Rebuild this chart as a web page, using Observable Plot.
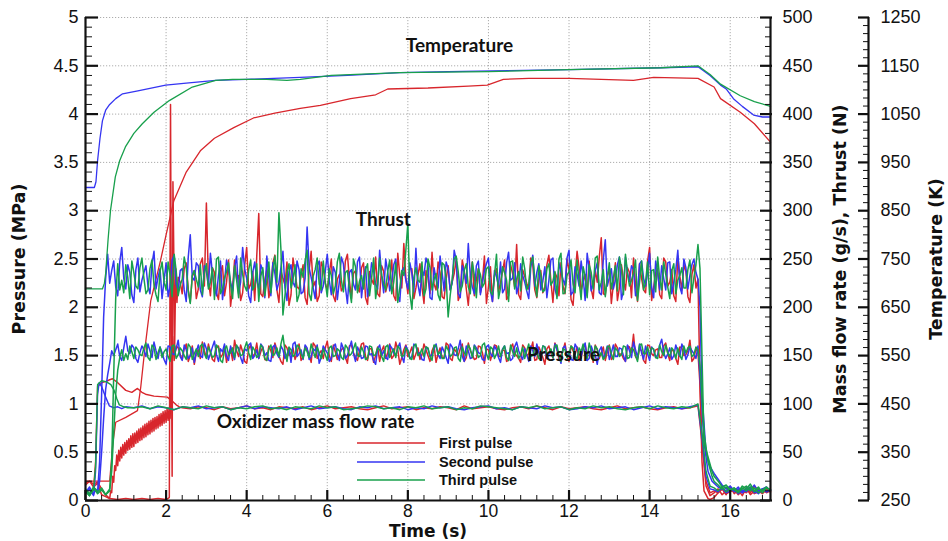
<!DOCTYPE html>
<html><head><meta charset="utf-8">
<script src="https://cdn.jsdelivr.net/npm/d3@7"></script>
<script src="https://cdn.jsdelivr.net/npm/@observablehq/plot@0.6"></script>
<style>
body{margin:0;background:#fff;}
#wrap{position:relative;width:948px;height:541px;}
#legend{position:absolute;left:355px;top:434px;font:bold 14.5px "Liberation Sans",Arial,sans-serif;color:#111;}
#legend div{display:flex;align-items:center;height:18.5px;}
#legend svg{margin-right:12px;}
</style></head><body><div id="wrap"></div>
<script>
// ================= DATA =================
const pulseNames = ["First pulse", "Second pulse", "Third pulse"];
const pulseColors = ["#d8262c", "#3535f2", "#18a04c"];

// ---- Temperature (K) ----
const tempFirstT = [0,0.6,0.68,0.75,1.0,1.29,1.37,1.46,1.62,1.86,2.0,2.19,2.5,2.85,3.2,3.68,4.17,4.7,5.33,5.83,6.58,7.2,7.5,8.5,9.5,9.97,10.37,11,12,13.6,14.1,15.2,15.6,15.76,16.25,16.6,17];
const tempFirstK = [290,290,370,412,422,436,484,554,664,746,800,870,930,974,1000,1022,1042,1052,1062,1068,1082,1090,1102,1104,1108,1110,1122,1124,1124,1120,1126,1124,1106,1082,1054,1030,992];
const tempSecondT = [0,0.22,0.26,0.3,0.36,0.42,0.5,0.6,0.75,0.92,1.3,1.99,2.5,3.23,4,5.33,6.5,7.8,9,10.5,12,14.27,15.2,15.5,15.76,15.9,16.08,16.3,16.58,16.8,17];
const tempSecondK = [898,898,910,954,1000,1036,1058,1070,1082,1092,1098,1110,1114,1120,1122,1126,1130,1136,1138,1140,1142,1146,1148,1130,1110,1102,1082,1066,1048,1044,1044];
const tempThirdT = [0,0.42,0.47,0.5,0.56,0.62,0.74,0.85,0.99,1.2,1.41,1.7,2.08,2.65,3.23,3.65,4.5,5.0,5.33,6.1,7.8,10,12,14.3,15.2,15.5,15.76,16.25,16.6,17];
const tempThirdK = [688,688,700,720,790,850,920,954,982,1010,1030,1054,1078,1106,1120,1122,1122,1120,1122,1130,1136,1138,1142,1146,1150,1132,1112,1088,1076,1066];

// ---- Thrust (N) ----
const thrustFirstStartT = [0,0.1,0.2,0.3,0.4,0.5,0.6,0.8,1.0,1.2,1.4,1.6,1.8,2.0,2.08,2.11,2.13,2.15,2.17,2.19,2.21,2.24,2.27];
const thrustFirstStartN = [18,20,17,19,12,6,2,1,2,1,2,1,2,1,3,410,180,25,330,260,150,240,205];
const thrustFirstSteadyFrom = 2.3;
const thrustFirstSteadyN = [
231,214,246,205,238,219,251,308,212,236,
208,243,226,201,249,233,215,262,224,207,
297,211,239,222,254,205,230,247,213,236,
219,244,203,258,227,212,241,218,250,206,
234,221,255,209,238,216,246,203,229,252,
211,237,224,249,207,233,266,214,240,220,
245,204,231,257,218,236,209,243,226,250,
213,238,202,247,229,215,253,221,206,240,
226,249,212,235,265,208,232,219,244,210,
238,221,254,205,231,246,214,239,202,258,
217,234,248,209,226,272,213,241,224,207,
244,218,236,251,206,230,215,262,221,240,
209,247,226,212,253,218,237,205,244,229];
const thrustFirstMidN = [
226,240,218,232,209,245,222,228,241,215,
236,212,249,220,230,207,243,219,237,253,
214,228,210,246,218,238,223,202,251,221,
233,210,238,221,206,247,225,235,212,229,
217,248,228,235,219,241,210,237,224,214,
243,216,230,212,256,220,231,240,209,233,
221,238,214,224,247,211,229,218,235,207,
249,219,231,212,240,226,204,242,233,216,
237,208,244,221,213,239,225,251,218,228,
215,244,227,236,212,222,250,208,233,241,
226,212,219,239,252,214,231,204,246,220,
229,241,210,223,245,218,248,207,236,213,
251,222,239,206,232,244,211,234,220];
const thrustFirstEndT = [15.25,15.3,15.35,15.45,15.5];
const thrustFirstEndN = [120,40,10,2,1];
const thrustFirstTailN = [3,8,12,6,14,9,11,5,13,8,15,10,7,12,9];

const thrustSecondStartT = [0,0.1,0.2,0.25,0.3,0.35,0.4,0.45,0.5,0.55];
const thrustSecondStartN = [8,14,6,12,9,40,110,190,230,255];
const thrustSecondSteadyFrom = 0.6;
const thrustSecondSteadyN = [
225,248,212,262,219,236,205,251,228,243,
214,258,231,209,246,222,254,217,240,206,
275,228,243,211,237,256,220,233,208,249,
226,241,214,262,230,205,247,219,238,253,
212,235,226,258,207,244,221,239,216,283,
231,209,248,222,255,213,236,227,245,204,
239,218,252,230,211,246,224,259,215,237,
227,250,206,241,219,235,261,212,233,244,
208,229,253,217,240,225,249,210,236,266,
221,243,213,238,251,206,232,247,219,257,
230,214,245,226,209,254,236,218,242,228,
251,211,237,223,259,216,234,248,207,240,
225,246,213,270,231,219,244,208,252,227,
239,215,248,222,256,210,235,243,218,247,
226,259,214,241,233,250,229];
const thrustSecondMidN = [
238,221,247,230,244,213,239,216,236,222,
245,219,240,228,211,249,224,238,218,252,
231,246,218,243,222,235,212,248,226,239,
217,253,226,240,212,236,228,244,210,231,
246,218,241,220,237,226,248,214,230,241,
220,243,215,237,228,242,208,252,221,236,
224,247,210,242,226,238,219,233,250,217,
244,213,237,228,246,216,224,239,251,210,
241,220,236,247,218,259,214,243,225,232,
214,248,225,245,217,238,222,215,246,228,
246,223,233,217,241,222,245,227,210,249,
219,246,229,251,213,242,222,231,256,217,
238,215,249,222,240,228,252,217,235,243,
212,245,230,237,221,248,218,230,246,214,
239,221,250,219,244,236];
const thrustSecondEndT = [15.25,15.3,15.4,15.5];
const thrustSecondEndN = [200,110,50,35];
const thrustSecondTailN = [28,22,16,12,15,10,14,8,13,11,16,9,12,14,10];

const thrustThirdStartT = [0,0.1,0.2,0.3,0.4,0.5,0.6,0.65,0.7,0.75,0.8,0.85];
const thrustThirdStartN = [10,5,13,7,11,6,12,40,130,210,245,218];
const thrustThirdSteadyFrom = 0.9;
const thrustThirdSteadyN = [
228,244,209,236,219,251,214,240,223,206,
247,218,233,255,212,229,241,204,238,221,
213,245,226,208,252,219,237,224,243,210,
234,217,249,222,206,241,228,215,253,298,
192,236,220,244,213,231,259,207,239,224,
248,211,233,222,256,216,238,205,242,227,
219,245,230,209,251,224,237,214,246,220,
233,287,198,241,226,212,250,218,235,207,
244,190,229,253,216,238,221,247,210,234,
225,242,213,255,220,236,206,248,229,217,
240,223,252,211,234,218,245,227,209,256,
215,237,224,249,208,232,244,219,253,226,
211,246,230,217,241,255,222,235,207,248,
226,213,239,252,218,234,209,245,228,241,
220,249,231,265];
const thrustThirdMidN = [
215,231,248,222,241,230,218,249,213,237,
226,247,211,238,223,252,217,233,229,244,
236,219,241,250,214,230,246,209,228,251,
222,239,218,245,232,212,247,236,226,260,
212,245,229,206,240,248,214,232,251,218,
226,240,214,247,228,236,219,250,215,233,
239,212,251,224,233,218,249,226,205,238,
259,214,231,228,247,219,241,229,213,246,
230,212,250,237,222,245,214,233,240,221,
240,216,233,209,242,228,247,219,237,252,
218,246,230,243,216,240,223,237,250,214,
233,249,215,227,242,210,236,251,218,239,
230,219,243,252,213,236,228,249,226,218,
247,238,216,230,247,221,238,214,233,220,
239,215,244];
const thrustThirdEndT = [15.25,15.3,15.35,15.45,15.55];
const thrustThirdEndN = [240,150,60,45,30];
const thrustThirdTailN = [25,20,14,16,11,13,9,15,12,17,10,14,8,13,11];

// ---- Chamber pressure (MPa) ----
const pressFirstStartT = [0,0.1,0.2,0.3,0.4,0.5];
const pressFirstStartP = [0.16,0.2,0.14,0.18,0.06,0.04];
const pressFirstRampFrom = 0.6, pressFirstRampStep = 0.025;
const pressFirstRampP = [
0.02,0.10,0.08,0.25,0.19,0.36,0.31,0.47,0.36,0.52,
0.41,0.55,0.44,0.58,0.47,0.60,0.49,0.62,0.52,0.64,
0.53,0.67,0.55,0.69,0.56,0.70,0.59,0.72,0.60,0.74,
0.62,0.75,0.63,0.77,0.65,0.79,0.66,0.80,0.68,0.82,
0.69,0.83,0.71,0.85,0.72,0.86,0.74,0.87,0.75,0.89,
0.77,0.90,0.78,0.92,0.80,0.93,0.81,0.95,0.83,0.96,
0.85];
const pressFirstIgnT = [2.13,2.16,2.2,2.25];
const pressFirstIgnP = [1.3,1.7,1.45,1.6];
const pressFirstSteadyFrom = 2.3;
const pressFirstSteadyP = [
1.58,1.46,1.62,1.50,1.41,1.56,1.64,1.48,1.53,1.44,
1.60,1.51,1.43,1.57,1.66,1.49,1.54,1.42,1.61,1.52,
1.47,1.59,1.45,1.55,1.63,1.50,1.41,1.58,1.53,1.46,
1.62,1.49,1.56,1.43,1.60,1.52,1.47,1.65,1.44,1.54,
1.51,1.58,1.42,1.61,1.48,1.55,1.63,1.45,1.57,1.50,
1.44,1.60,1.53,1.47,1.64,1.41,1.56,1.49,1.59,1.52,
1.46,1.62,1.50,1.55,1.43,1.58,1.48,1.61,1.45,1.54,
1.57,1.44,1.63,1.51,1.47,1.59,1.42,1.56,1.53,1.60,
1.49,1.55,1.45,1.62,1.50,1.43,1.58,1.52,1.64,1.46,
1.54,1.41,1.60,1.48,1.57,1.51,1.63,1.44,1.55,1.59,
1.47,1.62,1.50,1.43,1.56,1.53,1.45,1.61,1.49,1.58,
1.52,1.44,1.59,1.72,1.46,1.55,1.42,1.60,1.50,1.57,
1.48,1.63,1.45,1.54,1.41,1.58,1.51,1.66,1.47,1.53];
const pressFirstMidP = [
1.51,1.57,1.44,1.60,1.53,1.47,1.55,1.62,1.46,1.58,
1.48,1.59,1.52,1.45,1.55,1.61,1.44,1.57,1.49,1.63,
1.54,1.46,1.60,1.48,1.56,1.44,1.61,1.50,1.58,1.52,
1.45,1.59,1.51,1.63,1.47,1.55,1.58,1.50,1.61,1.46,
1.56,1.48,1.60,1.53,1.45,1.62,1.49,1.57,1.43,1.59,
1.55,1.47,1.62,1.50,1.56,1.48,1.61,1.53,1.46,1.58,
1.51,1.56,1.44,1.60,1.52,1.48,1.63,1.47,1.57,1.50,
1.62,1.48,1.55,1.46,1.60,1.53,1.57,1.45,1.61,1.49,
1.56,1.44,1.58,1.52,1.47,1.61,1.50,1.56,1.45,1.59,
1.48,1.57,1.52,1.63,1.46,1.55,1.49,1.60,1.51,1.45,
1.58,1.50,1.56,1.61,1.47,1.59,1.54,1.46,1.62,1.51,
1.47,1.60,1.53,1.49,1.57,1.45,1.61,1.52,1.56,1.48,
1.60,1.52,1.57,1.47,1.59,1.50,1.55,1.44,1.58];
const pressFirstEndT = [15.25,15.3,15.4,15.5];
const pressFirstEndP = [1.2,0.6,0.15,0.05];
const pressFirstTailP = [0.08,0.12,0.06,0.1,0.14,0.07,0.11,0.09,0.13,0.06,0.1,0.12,0.08,0.11,0.09];

const pressSecondStartT = [0,0.1,0.2,0.3,0.35,0.4,0.45,0.5,0.55,0.6,0.65];
const pressSecondStartP = [0.1,0.06,0.12,0.08,0.2,0.5,0.85,1.15,1.3,1.42,1.55];
const pressSecondSteadyFrom = 0.7;
const pressSecondSteadyP = [
1.50,1.62,1.45,1.70,1.52,1.58,1.43,1.60,1.49,1.55,
1.64,1.47,1.53,1.41,1.59,1.51,1.66,1.45,1.56,1.50,
1.43,1.61,1.48,1.57,1.52,1.65,1.44,1.54,1.49,1.60,
1.46,1.58,1.42,1.55,1.63,1.50,1.47,1.59,1.53,1.44,
1.61,1.48,1.56,1.51,1.43,1.64,1.52,1.46,1.58,1.49,
1.55,1.42,1.60,1.53,1.47,1.62,1.45,1.57,1.50,1.65,
1.44,1.54,1.48,1.59,1.52,1.41,1.61,1.55,1.46,1.58,
1.50,1.63,1.43,1.56,1.49,1.60,1.53,1.45,1.57,1.51,
1.62,1.47,1.54,1.42,1.59,1.50,1.66,1.44,1.55,1.48,
1.58,1.52,1.45,1.61,1.49,1.56,1.43,1.60,1.53,1.47,
1.64,1.50,1.57,1.44,1.55,1.62,1.46,1.59,1.51,1.48,
1.56,1.42,1.60,1.53,1.45,1.58,1.50,1.63,1.47,1.54,
1.41,1.59,1.52,1.46,1.61,1.49,1.57,1.44,1.55,1.64,
1.48,1.53,1.60,1.45,1.56,1.51,1.67,1.47,1.58,1.50,
1.54,1.62,1.46,1.59,1.52,1.60];
const pressSecondMidP = [
1.56,1.49,1.58,1.55,1.61,1.47,1.53,1.56,1.62,1.48,
1.55,1.59,1.46,1.60,1.52,1.57,1.49,1.61,1.47,1.58,
1.54,1.50,1.63,1.46,1.59,1.51,1.57,1.62,1.45,1.53,
1.60,1.48,1.57,1.61,1.47,1.56,1.62,1.50,1.45,1.59,
1.52,1.60,1.47,1.58,1.62,1.49,1.56,1.61,1.46,1.57,
1.61,1.48,1.56,1.44,1.59,1.51,1.63,1.47,1.58,1.52,
1.59,1.47,1.60,1.51,1.45,1.57,1.50,1.48,1.61,1.53,
1.58,1.49,1.60,1.47,1.62,1.52,1.46,1.59,1.49,1.57,
1.51,1.59,1.48,1.62,1.51,1.57,1.49,1.60,1.47,1.61,
1.53,1.46,1.59,1.52,1.60,1.48,1.57,1.52,1.45,1.59,
1.55,1.46,1.51,1.60,1.49,1.54,1.60,1.47,1.56,1.62,
1.50,1.58,1.49,1.46,1.62,1.51,1.57,1.45,1.60,1.51,
1.55,1.47,1.60,1.53,1.49,1.58,1.50,1.61,1.48,1.56,
1.62,1.46,1.52,1.59,1.48,1.61,1.53,1.52,1.46,1.61,
1.49,1.57,1.51,1.55,1.47];
const pressSecondEndT = [15.25,15.35,15.45,15.55];
const pressSecondEndP = [1.3,0.6,0.3,0.2];
const pressSecondTailP = [0.18,0.14,0.12,0.1,0.13,0.09,0.12,0.08,0.11,0.14,0.1,0.07,0.12,0.09,0.11];

const pressThirdStartT = [0,0.1,0.2,0.3,0.4,0.5,0.6,0.65,0.7,0.75,0.8,0.85,0.9,0.95];
const pressThirdStartP = [0.12,0.07,0.14,0.09,0.13,0.06,0.1,0.3,0.7,1.1,1.35,1.48,1.56,1.45];
const pressThirdSteadyFrom = 1.0;
const pressThirdSteadyP = [
1.52,1.60,1.47,1.56,1.50,1.63,1.45,1.58,1.53,1.48,
1.57,1.44,1.61,1.51,1.55,1.46,1.59,1.52,1.49,1.62,
1.47,1.54,1.50,1.58,1.43,1.60,1.53,1.48,1.56,1.51,
1.64,1.46,1.55,1.50,1.58,1.45,1.61,1.52,1.49,1.71,
1.44,1.56,1.51,1.59,1.47,1.54,1.62,1.48,1.53,1.57,
1.45,1.60,1.50,1.55,1.46,1.58,1.52,1.63,1.49,1.54,
1.47,1.59,1.51,1.56,1.44,1.61,1.53,1.48,1.57,1.50,
1.55,1.46,1.62,1.52,1.49,1.58,1.45,1.60,1.54,1.47,
1.56,1.51,1.59,1.44,1.53,1.61,1.48,1.55,1.50,1.63,
1.46,1.57,1.52,1.49,1.60,1.45,1.54,1.58,1.51,1.47,
1.62,1.50,1.55,1.46,1.59,1.53,1.48,1.61,1.44,1.56,
1.52,1.58,1.47,1.54,1.50,1.63,1.45,1.57,1.53,1.49,
1.60,1.46,1.55,1.51,1.59,1.48,1.56,1.44,1.62,1.52,
1.50,1.57,1.47,1.54,1.61,1.49,1.55,1.58,1.46,1.53,
1.60,1.51,1.56];
const pressThirdMidP = [
1.46,1.54,1.59,1.51,1.58,1.48,1.61,1.46,1.59,1.54,
1.49,1.60,1.47,1.58,1.50,1.62,1.46,1.57,1.60,1.52,
1.59,1.48,1.61,1.45,1.56,1.51,1.58,1.61,1.50,1.58,
1.53,1.59,1.48,1.61,1.47,1.57,1.50,1.58,1.62,1.55,
1.59,1.49,1.61,1.52,1.58,1.48,1.55,1.59,1.47,1.51,
1.58,1.49,1.57,1.48,1.61,1.50,1.57,1.50,1.59,1.46,
1.60,1.50,1.58,1.49,1.59,1.48,1.57,1.60,1.49,1.58,
1.47,1.60,1.50,1.57,1.59,1.49,1.61,1.51,1.47,1.60,
1.49,1.58,1.47,1.59,1.50,1.57,1.60,1.48,1.61,1.52,
1.59,1.47,1.60,1.56,1.48,1.61,1.49,1.47,1.59,1.55,
1.49,1.58,1.47,1.60,1.51,1.57,1.60,1.50,1.57,1.48,
1.60,1.49,1.58,1.62,1.47,1.55,1.60,1.49,1.46,1.59,
1.52,1.58,1.49,1.60,1.47,1.58,1.50,1.61,1.52,1.59,
1.58,1.48,1.61,1.50,1.53,1.58,1.47,1.50,1.60,1.58,
1.49,1.59];
const pressThirdEndT = [15.25,15.35,15.45,15.55];
const pressThirdEndP = [1.4,0.7,0.4,0.25];
const pressThirdTailP = [0.2,0.16,0.12,0.14,0.1,0.13,0.09,0.12,0.15,0.1,0.13,0.08,0.11,0.14,0.1];

// ---- Oxidizer mass flow rate (g/s) ----
const flowFirstStartT = [0,0.1,0.2,0.25,0.3,0.4,0.5,0.6,0.67,0.8,1.0,1.15,1.29,1.4,1.49,1.7,2.03,2.15,2.25,2.33];
const flowFirstStartG = [10,6,12,40,118,122,123,125,126,122,114,112,116,112,110,108,107,103,99,97];
const flowFirstSteadyFrom = 2.4;
const flowFirstSteadyG = [
96,95,97,96,94,97,95,96,98,95,
96,94,97,96,95,97,94,96,98,95,
96,97,95,94,96,98,95,96,97,94,
96,95,97,96,94,98,95,96,97,95,
94,96,97,95,98,96,94,97,95,96,
97,95,94,96,98,95,96,97,95,94,
96,97,95,96,98];
const flowFirstEndT = [15.3,15.4,15.5];
const flowFirstEndG = [60,20,8];
const flowFirstTailG = [10,8,12,7,9,11,6,10,8,12,7,9,11,8,10];

const flowSecondStartT = [0,0.1,0.2,0.25,0.3,0.34,0.4,0.5,0.59,0.7,0.8,0.9];
const flowSecondStartG = [8,12,5,30,110,122,118,107,98,96,97,95];
const flowSecondSteadyFrom = 1.0;
const flowSecondSteadyG = [
97,96,98,95,97,96,94,97,96,98,
95,96,97,94,96,98,95,97,96,95,
97,94,96,98,95,96,97,95,94,97,
96,98,95,96,97,94,96,95,98,96,
97,95,94,96,97,98,95,96,94,97,
96,95,98,96,97,94,95,97,96,98,
95,96,97,94,96,98,95,97,96,95,
97,99];
const flowSecondEndT = [15.3,15.4,15.5];
const flowSecondEndG = [65,25,12];
const flowSecondTailG = [11,9,13,8,10,12,7,11,9,13,8,10,12,9,11];

const flowThirdStartT = [0,0.1,0.2,0.25,0.3,0.4,0.5,0.55,0.63,0.71,0.78,0.84,0.95,1.05];
const flowThirdStartG = [9,5,11,35,120,124,123,122,120,114,105,99,97,96];
const flowThirdSteadyFrom = 1.2;
const flowThirdSteadyG = [
96,97,95,98,96,94,97,96,95,98,
96,97,94,96,95,97,98,95,96,94,
97,96,95,98,96,97,94,95,96,98,
97,95,96,94,97,96,98,95,96,97,
94,96,95,98,97,96,95,94,97,96,
98,95,96,97,94,96,95,98,96,97,
95,94,96,97,95,98,96,95,97,96,
100];
const flowThirdEndT = [15.3,15.4,15.5];
const flowThirdEndG = [70,30,15];
const flowThirdTailG = [13,10,14,9,12,11,8,13,10,14,9,12,10,13,11];

// sampling grids
const steadyStep = 0.1, flowStep = 0.2, tailFrom = 15.6, tailStep = 0.1;

// axis ticks
const pressureTicks = [0,0.5,1,1.5,2,2.5,3,3.5,4,4.5,5];
const timeTicks = [0,2,4,6,8,10,12,14,16];

// annotations
const annotations = [
  {label: "Temperature", t: 9.28, v: 4.71},
  {label: "Thrust", t: 7.39, v: 2.90},
  {label: "Pressure", t: 11.86, v: 1.51},
  {label: "Oxidizer mass flow rate", t: 5.71, v: 0.81}
];

// ================= BUILD =================
const K = k => (k - 250) / 200, N = n => n / 100, G = g => g / 100, P = p => p;
function pairs(ts, vs, f) { return ts.map((t, i) => ({t, v: f(vs[i])})); }
function grid(from, step, vs, f) { return vs.map((v, i) => ({t: +(from + i * step).toFixed(3), v: f(v)})); }
function steadyPart(from, step, vs, mid, f) {
  const a = grid(from, step, vs, f);
  const b = mid ? grid(from + step / 2, step, mid, f) : [];
  return [...a, ...b].sort((p, q) => p.t - q.t);
}
function noisy(sT, sV, from, step, steady, mid, eT, eV, tail, f) {
  return [...pairs(sT, sV, f), ...steadyPart(from, step, steady, mid, f), ...pairs(eT, eV, f), ...grid(tailFrom, tailStep, tail, f)];
}

const pressFirstStart = [
  ...pairs(pressFirstStartT, pressFirstStartP, P),
  ...grid(pressFirstRampFrom, pressFirstRampStep, pressFirstRampP, P),
  ...pairs(pressFirstIgnT, pressFirstIgnP, P)
];

const series = [
  [pairs(tempFirstT, tempFirstK, K),
   noisy(flowFirstStartT, flowFirstStartG, flowFirstSteadyFrom, flowStep, flowFirstSteadyG, null, flowFirstEndT, flowFirstEndG, flowFirstTailG, G),
   [...pressFirstStart, ...steadyPart(pressFirstSteadyFrom, steadyStep, pressFirstSteadyP, pressFirstMidP, P), ...pairs(pressFirstEndT, pressFirstEndP, P), ...grid(tailFrom, tailStep, pressFirstTailP, P)],
   noisy(thrustFirstStartT, thrustFirstStartN, thrustFirstSteadyFrom, steadyStep, thrustFirstSteadyN, thrustFirstMidN, thrustFirstEndT, thrustFirstEndN, thrustFirstTailN, N)],
  [pairs(tempSecondT, tempSecondK, K),
   noisy(flowSecondStartT, flowSecondStartG, flowSecondSteadyFrom, flowStep, flowSecondSteadyG, null, flowSecondEndT, flowSecondEndG, flowSecondTailG, G),
   noisy(pressSecondStartT, pressSecondStartP, pressSecondSteadyFrom, steadyStep, pressSecondSteadyP, pressSecondMidP, pressSecondEndT, pressSecondEndP, pressSecondTailP, P),
   noisy(thrustSecondStartT, thrustSecondStartN, thrustSecondSteadyFrom, steadyStep, thrustSecondSteadyN, thrustSecondMidN, thrustSecondEndT, thrustSecondEndN, thrustSecondTailN, N)],
  [pairs(tempThirdT, tempThirdK, K),
   noisy(flowThirdStartT, flowThirdStartG, flowThirdSteadyFrom, flowStep, flowThirdSteadyG, null, flowThirdEndT, flowThirdEndG, flowThirdTailG, G),
   noisy(pressThirdStartT, pressThirdStartP, pressThirdSteadyFrom, steadyStep, pressThirdSteadyP, pressThirdMidP, pressThirdEndT, pressThirdEndP, pressThirdTailP, P),
   noisy(thrustThirdStartT, thrustThirdStartN, thrustThirdSteadyFrom, steadyStep, thrustThirdSteadyN, thrustThirdMidN, thrustThirdEndT, thrustThirdEndN, thrustThirdTailN, N)]
];

const isHalf = v => Math.abs(v * 2 - Math.round(v * 2)) < 1e-6;
const minorY = d3.range(0, 50).map(i => i / 10).filter(v => !isHalf(v));
const minorTemp = d3.range(0, 60).map(i => i / 12).filter(v => !isHalf(v));
const minorX = d3.range(0, 43).map(i => +(i * 0.4).toFixed(2)).filter(v => v <= 17 && Math.abs(v / 2 - Math.round(v / 2)) > 1e-6);

const tempAxisOffset = 98;
const lineMarks = [];
series.forEach((group, i) => {
  group.forEach((data, j) => {
    lineMarks.push(Plot.line(data, {x: "t", y: "v", stroke: pulseColors[i], strokeWidth: j === 0 ? 1.3 : (j === 1 ? 1.4 : 1.5)}));
  });
});

const titleStyle = {fontFamily: "'DejaVu Sans', sans-serif", fontWeight: "bold", fontSize: 17.5, textAnchor: "middle", lineAnchor: "middle"};

const chart = Plot.plot({
  width: 948, height: 541,
  marginLeft: 85, marginRight: 178, marginTop: 17, marginBottom: 41,
  x: {domain: [0, 17]},
  y: {domain: [0, 5]},
  style: {fontFamily: "'Liberation Sans', Arial, sans-serif", background: "white", color: "#111"},
  marks: [
    Plot.gridX(timeTicks.filter(d => d > 0), {stroke: "#8a8a8a", strokeOpacity: 0.7, strokeDasharray: "1.2,1.8"}),
    Plot.gridY(pressureTicks.filter(d => d > 0), {stroke: "#8a8a8a", strokeOpacity: 0.7, strokeDasharray: "1.2,1.8"}),
    ...lineMarks,
    Plot.ruleX([0], {strokeWidth: 2.2}),
    Plot.ruleX([17], {strokeWidth: 2.2}),
    Plot.ruleY([0], {strokeWidth: 2.2}),
    Plot.ruleX([17], {dx: tempAxisOffset, strokeWidth: 2.2}),
    // left axis (pressure)
    Plot.axisY(pressureTicks, {anchor: "left", tickSize: 13, dx: 13, fill: "none", strokeWidth: 2.2, label: null}),
    Plot.axisY(minorY, {anchor: "left", tickSize: 7, dx: 7, fill: "none", strokeWidth: 1, label: null}),
    Plot.axisY(pressureTicks, {anchor: "left", tickSize: 0, tickPadding: 7, fontSize: 18, label: null, tickFormat: d => String(d)}),
    // right axis (mass flow, thrust)
    Plot.axisY(pressureTicks, {anchor: "right", tickSize: 12, dx: -11, fill: "none", strokeWidth: 2.2, label: null}),
    Plot.axisY(minorY, {anchor: "right", tickSize: 6, dx: -6, fill: "none", strokeWidth: 1, label: null}),
    Plot.axisY(pressureTicks, {anchor: "right", tickSize: 0, tickPadding: 12, fontSize: 18, label: null, tickFormat: d => String(Math.round(d * 100))}),
    // temperature axis
    Plot.axisY(pressureTicks, {anchor: "right", tickSize: 11, dx: tempAxisOffset - 11, fill: "none", strokeWidth: 2.2, label: null}),
    Plot.axisY(minorTemp, {anchor: "right", tickSize: 6, dx: tempAxisOffset - 6, fill: "none", strokeWidth: 1, label: null}),
    Plot.axisY(pressureTicks, {anchor: "right", tickSize: 0, dx: tempAxisOffset, tickPadding: 12, fontSize: 18, label: null, tickFormat: d => String(Math.round(250 + 200 * d))}),
    // bottom axis (time)
    Plot.axisX(timeTicks, {anchor: "bottom", tickSize: 10, dy: -10, fill: "none", strokeWidth: 2.2, label: null}),
    Plot.axisX(minorX, {anchor: "bottom", tickSize: 5, dy: -5, fill: "none", strokeWidth: 1, label: null}),
    Plot.axisX(timeTicks, {anchor: "bottom", tickSize: 0, tickPadding: 4, fontSize: 17.5, label: null}),
    // axis titles
    Plot.text(["Pressure (MPa)"], {frameAnchor: "left", dx: -66, rotate: -90, ...titleStyle}),
    Plot.text(["Mass flow rate (g/s), Thrust (N)"], {frameAnchor: "right", dx: 70, rotate: -90, ...titleStyle}),
    Plot.text(["Temperature (K)"], {frameAnchor: "right", dx: 166, rotate: -90, ...titleStyle}),
    Plot.text(["Time (s)"], {frameAnchor: "bottom", dy: 31.5, ...titleStyle, fontSize: 17}),
    // annotations
    Plot.text(annotations, {x: "t", y: "v", text: "label", fontFamily: "Lato", fontWeight: "bold", fontSize: 19, fill: "#111"})
  ]
});
document.getElementById("wrap").appendChild(chart);

// legend
const legend = document.createElement("div");
legend.id = "legend";
pulseNames.forEach((name, i) => {
  const row = document.createElement("div");
  row.innerHTML = `<svg width="72" height="4"><line x1="2" x2="70" y1="2" y2="2" stroke="${pulseColors[i]}" stroke-width="1.5"/></svg><span>${name}</span>`;
  legend.appendChild(row);
});
document.getElementById("wrap").appendChild(legend);
</script></body></html>
